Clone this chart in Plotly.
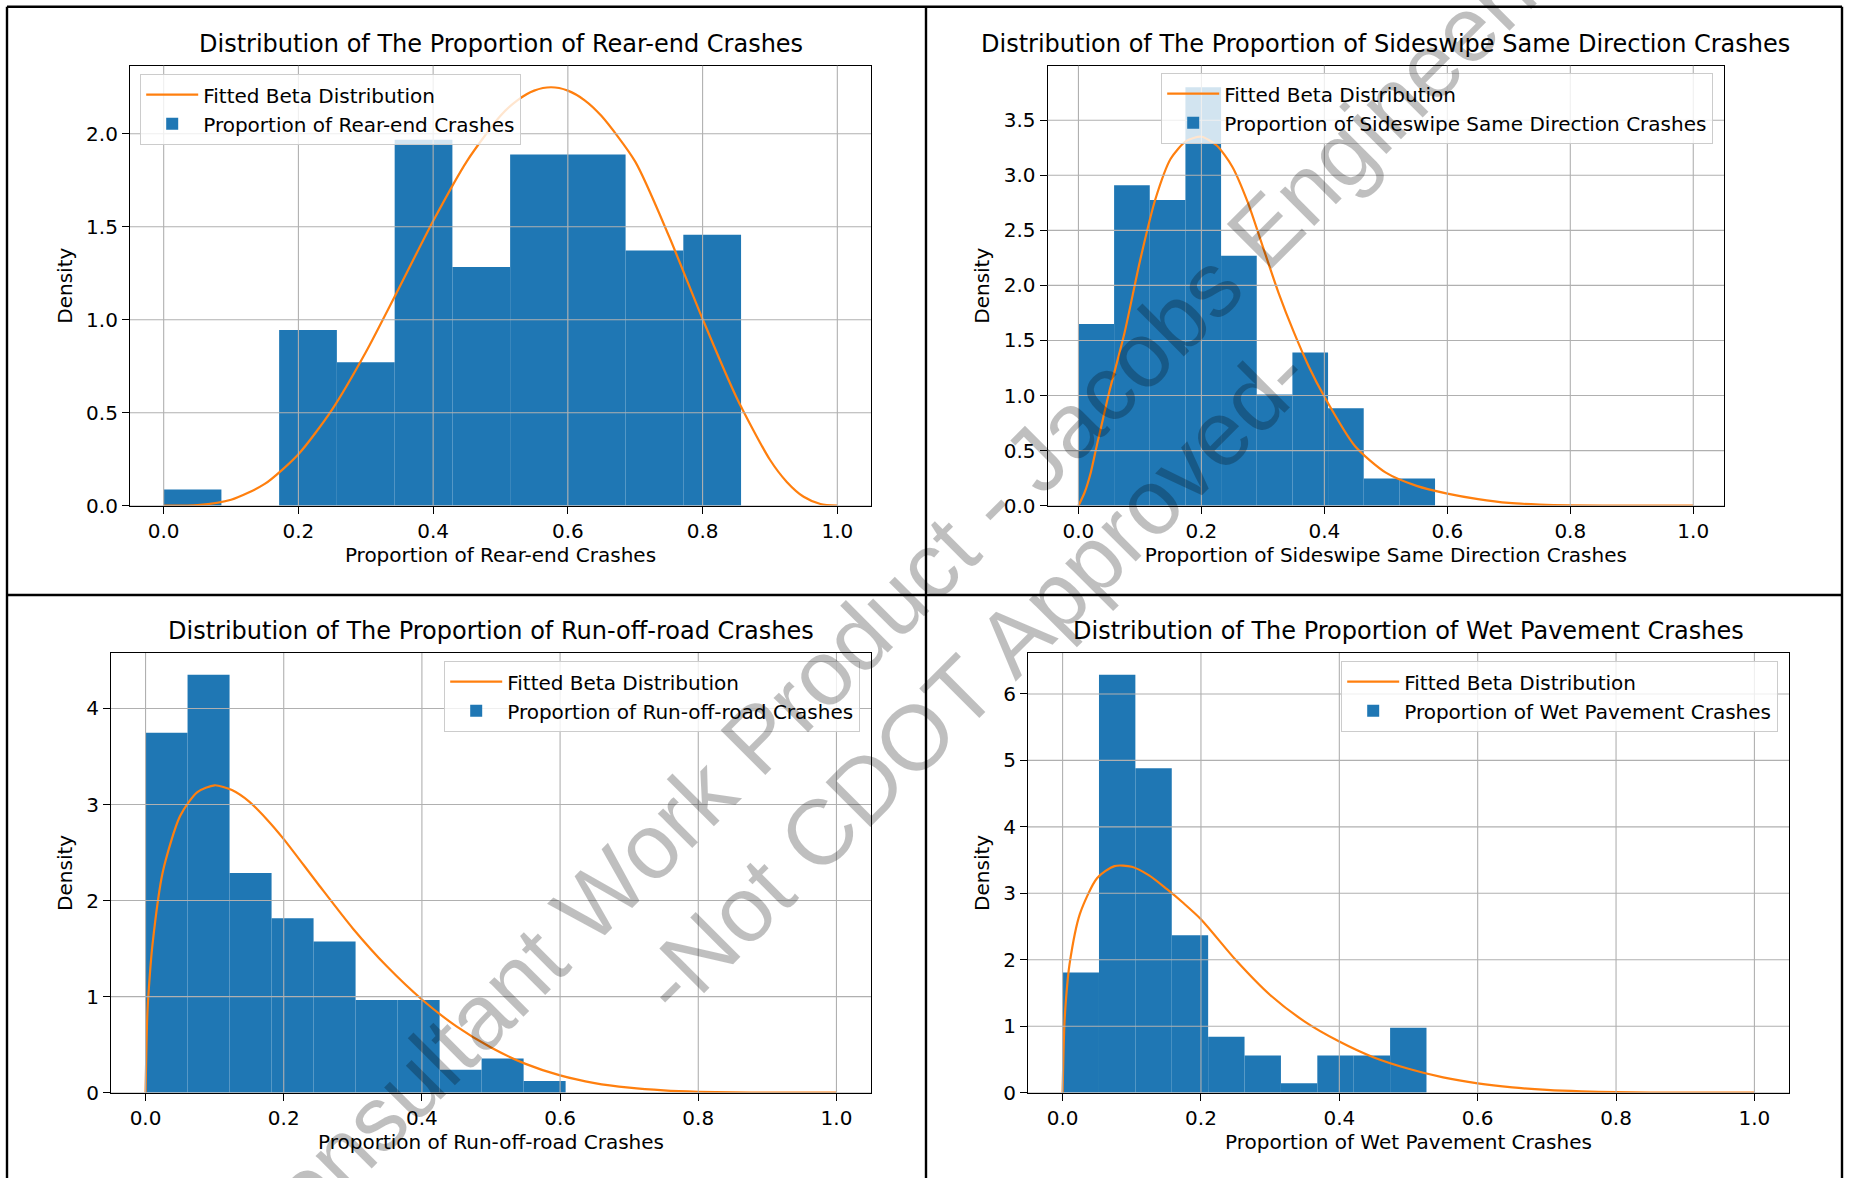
import plotly.graph_objects as go

W, H = 1849, 1178

# ---------------- data ----------------
rear_end_bin_edges = [0.0, 0.0857, 0.1714, 0.2571, 0.3429, 0.4286, 0.5143, 0.6, 0.6857, 0.7714, 0.8571]
rear_end_density = [0.087, 0.0, 0.945, 0.771, 1.968, 1.283, 1.889, 1.889, 1.372, 1.457]
rear_end_fit_x = [0.0, 0.05, 0.1, 0.15, 0.2, 0.25, 0.3, 0.35, 0.4, 0.45, 0.5, 0.525, 0.55, 0.575,
                  0.6, 0.625, 0.65, 0.7, 0.75, 0.8, 0.85, 0.9, 0.925, 0.95, 0.975, 1.0]
rear_end_fit_y = [0.0, 0.003, 0.032, 0.117, 0.277, 0.517, 0.825, 1.175, 1.531, 1.852, 2.097, 2.18, 2.232, 2.25,
                  2.232, 2.18, 2.095, 1.85, 1.45, 1.004, 0.585, 0.247, 0.128, 0.048, 0.009, 0.0]

sideswipe_bin_edges = [0.0, 0.058, 0.116, 0.174, 0.232, 0.29, 0.348, 0.406, 0.464, 0.522, 0.58]
sideswipe_density = [1.65, 2.91, 2.775, 3.80, 2.27, 1.01, 1.39, 0.885, 0.246, 0.246]
sideswipe_fit_x = [0.0, 0.01, 0.02, 0.03, 0.04, 0.05, 0.075, 0.1, 0.125, 0.15, 0.175, 0.2, 0.225,
                   0.25, 0.275, 0.3, 0.325, 0.35, 0.375, 0.4, 0.45, 0.5, 0.55, 0.6, 0.65, 0.7,
                   0.75, 0.8, 0.9, 1.0]
sideswipe_fit_y = [0.0, 0.12, 0.3, 0.55, 0.79, 1.03, 1.57, 2.22, 2.78, 3.15, 3.31, 3.35, 3.27,
                   3.08, 2.76, 2.35, 1.94, 1.58, 1.26, 0.99, 0.54, 0.3, 0.18, 0.11, 0.06, 0.025,
                   0.01, 0.003, 0.0, 0.0]

run_off_bin_edges = [0.0, 0.0608, 0.1216, 0.1824, 0.2432, 0.304, 0.3648, 0.4256, 0.4864, 0.5472, 0.608]
run_off_density = [3.746, 4.35, 2.287, 1.815, 1.573, 0.964, 0.964, 0.238, 0.355, 0.121]
run_off_fit_x = [0.0, 0.0025, 0.005, 0.01, 0.025, 0.05, 0.075, 0.1, 0.125, 0.15, 0.175, 0.2,
                 0.25, 0.3, 0.35, 0.4, 0.45, 0.5, 0.55, 0.6, 0.65, 0.7, 0.75, 0.8, 0.85, 0.9, 1.0]
run_off_fit_y = [0.0, 0.8, 1.11, 1.54, 2.3, 2.88, 3.13, 3.2, 3.15, 3.03, 2.85, 2.64,
                 2.17, 1.71, 1.31, 0.97, 0.69, 0.47, 0.3, 0.18, 0.1, 0.053, 0.025, 0.01, 0.003, 0.0005, 0.0]

wet_bin_edges = [0.0, 0.0526, 0.1052, 0.1578, 0.2104, 0.263, 0.3156, 0.3682, 0.4208, 0.4734, 0.526]
wet_density = [1.81, 6.29, 4.88, 2.37, 0.84, 0.558, 0.141, 0.558, 0.558, 0.976]
wet_fit_x = [0.0, 0.0025, 0.005, 0.01, 0.025, 0.05, 0.075, 0.1, 0.125, 0.15, 0.175, 0.2, 0.25,
             0.3, 0.35, 0.4, 0.45, 0.5, 0.55, 0.6, 0.65, 0.7, 0.75, 0.8, 0.85, 0.9, 1.0]
wet_fit_y = [0.0, 1.0, 1.42, 1.93, 2.69, 3.23, 3.41, 3.4, 3.27, 3.07, 2.85, 2.61, 2.0,
             1.47, 1.07, 0.77, 0.53, 0.36, 0.23, 0.14, 0.08, 0.042, 0.02, 0.008, 0.003, 0.001, 0.0]

x_ticks = [0.0, 0.2, 0.4, 0.6, 0.8, 1.0]
rear_end_y_ticks = [0.0, 0.5, 1.0, 1.5, 2.0]
sideswipe_y_ticks = [0.0, 0.5, 1.0, 1.5, 2.0, 2.5, 3.0, 3.5]
run_off_y_ticks = [0, 1, 2, 3, 4]
wet_y_ticks = [0, 1, 2, 3, 4, 5, 6]

titles = ["Distribution of The Proportion of Rear-end Crashes",
          "Distribution of The Proportion of Sideswipe Same Direction Crashes",
          "Distribution of The Proportion of Run-off-road Crashes",
          "Distribution of The Proportion of Wet Pavement Crashes"]
hist_names = ["Proportion of Rear-end Crashes",
              "Proportion of Sideswipe Same Direction Crashes",
              "Proportion of Run-off-road Crashes",
              "Proportion of Wet Pavement Crashes"]
fit_name = "Fitted Beta Distribution"

# ---------------- layout helpers ----------------
FONT = "DejaVu Sans"
FS = 20
BLUE = "#1f77b4"
ORANGE = "#ff7f0e"
GRID = "#b0b0b0"


def px_x(px):
    return px / W


def px_y(py):
    return 1 - py / H


panels = [
    dict(edges=rear_end_bin_edges, dens=rear_end_density, fx=rear_end_fit_x, fy=rear_end_fit_y,
         yticks=rear_end_y_ticks, yfmt=".1f", ytop=2.366,
         box=(130, 871, 65.7, 505.7), leg=("left", 140, 74)),
    dict(edges=sideswipe_bin_edges, dens=sideswipe_density, fx=sideswipe_fit_x, fy=sideswipe_fit_y,
         yticks=sideswipe_y_ticks, yfmt=".1f", ytop=3.995,
         box=(1047.7, 1724, 65.7, 505.7), leg=("right", 1713, 73)),
    dict(edges=run_off_bin_edges, dens=run_off_density, fx=run_off_fit_x, fy=run_off_fit_y,
         yticks=run_off_y_ticks, yfmt="d", ytop=4.577,
         box=(111, 871, 653, 1092.7), leg=("right", 860, 661)),
    dict(edges=wet_bin_edges, dens=wet_density, fx=wet_fit_x, fy=wet_fit_y,
         yticks=wet_y_ticks, yfmt="d", ytop=6.616,
         box=(1028, 1789, 653, 1092.7), leg=("right", 1778, 661)),
]

fig = go.Figure()
layout = dict(
    width=W, height=H,
    margin=dict(l=0, r=0, t=0, b=0),
    paper_bgcolor="white", plot_bgcolor="white",
    font=dict(family=FONT, size=FS, color="black"),
    showlegend=True,
    annotations=[], shapes=[],
)

for i, p in enumerate(panels):
    n = "" if i == 0 else str(i + 1)
    xa, ya = "x" + n, "y" + n
    leg_name = "legend" + n
    edges = p["edges"]
    centers = [(edges[k] + edges[k + 1]) / 2 for k in range(len(edges) - 1)]
    widths = [edges[k + 1] - edges[k] for k in range(len(edges) - 1)]

    fig.add_trace(go.Scatter(
        x=p["fx"], y=p["fy"], mode="lines", name=fit_name,
        line=dict(color=ORANGE, width=2.2, shape="spline", smoothing=0.7),
        xaxis=xa, yaxis=ya, legend=leg_name, hoverinfo="skip"))
    fig.add_trace(go.Bar(
        x=centers, y=p["dens"], width=widths, name=hist_names[i],
        marker=dict(color=BLUE, line=dict(width=0)),
        xaxis=xa, yaxis=ya, legend=leg_name))

    l, r, t, b = p["box"]
    common = dict(showgrid=False, zeroline=False, showline=True, linecolor="black",
                  linewidth=1.2, mirror=True, ticks="outside", ticklen=7, tickwidth=1.2,
                  tickcolor="black", automargin=False,
                  tickfont=dict(family=FONT, size=FS, color="black"))
    layout["xaxis" + n] = dict(
        domain=[px_x(l), px_x(r)], anchor=ya, range=[-0.05, 1.05],
        tickmode="array", tickvals=x_ticks, tickformat=".1f",
        title=dict(text=hist_names[i], font=dict(family=FONT, size=FS), standoff=5),
        **common)
    layout["yaxis" + n] = dict(
        domain=[px_y(b), px_y(t)], anchor=xa, range=[0, p["ytop"]],
        tickmode="array", tickvals=p["yticks"], tickformat=p["yfmt"],
        title=dict(text="Density", font=dict(family=FONT, size=FS), standoff=8),
        **common)

    # grid lines drawn above the bars (as in the reference)
    for tv in x_ticks:
        layout["shapes"].append(dict(type="line", xref=xa, yref=ya + " domain",
                                     x0=tv, x1=tv, y0=0, y1=1, layer="above",
                                     line=dict(color=GRID, width=1.1)))
    for tv in p["yticks"]:
        layout["shapes"].append(dict(type="line", xref=xa + " domain", yref=ya,
                                     x0=0, x1=1, y0=tv, y1=tv, layer="above",
                                     line=dict(color=GRID, width=1.1)))

    # subplot title
    layout["annotations"].append(dict(
        text=titles[i], xref=xa + " domain", yref=ya + " domain", x=0.5, y=1,
        xanchor="center", yanchor="bottom", yshift=6, showarrow=False,
        font=dict(family=FONT, size=24, color="black")))

    side, lx, ly = p["leg"]
    layout[leg_name] = dict(
        x=px_x(lx), y=px_y(ly), xanchor=side, yanchor="top",
        xref="paper", yref="paper",
        bgcolor="rgba(255,255,255,0.8)", bordercolor="#cccccc", borderwidth=1.2,
        font=dict(family=FONT, size=FS, color="black"),
        itemwidth=52, tracegroupgap=0)

# document frame lines (table borders)
frame = dict(color="black", width=2.4)
for (x0, y0, x1, y1) in [(7, 6.7, 1842, 6.7), (7, 6.7, 7, H), (1842, 6.7, 1842, H),
                         (926, 6.7, 926, H), (7, 595, 1842, 595)]:
    layout["shapes"].append(dict(type="line", xref="paper", yref="paper",
                                 x0=px_x(x0), x1=px_x(x1), y0=px_y(y0), y1=px_y(y1),
                                 line=frame, layer="above"))

# watermark
wm_font = dict(family="Liberation Sans", size=92, color="rgba(0,0,0,0.25)")
for text, cx, cy in [("Consultant Work Product - Jacobs Engineering", 915, 580),
                     ("-Not CDOT Approved-", 974, 678)]:
    layout["annotations"].append(dict(
        text=text, xref="paper", yref="paper", x=px_x(cx), y=px_y(cy),
        xanchor="center", yanchor="middle", textangle=-45, showarrow=False,
        font=wm_font))

fig.update_layout(**layout)
fig.write_html("out.html", config={"displayModeBar": False},
               post_script="document.body.style.margin='0';document.body.style.overflow='hidden';")
